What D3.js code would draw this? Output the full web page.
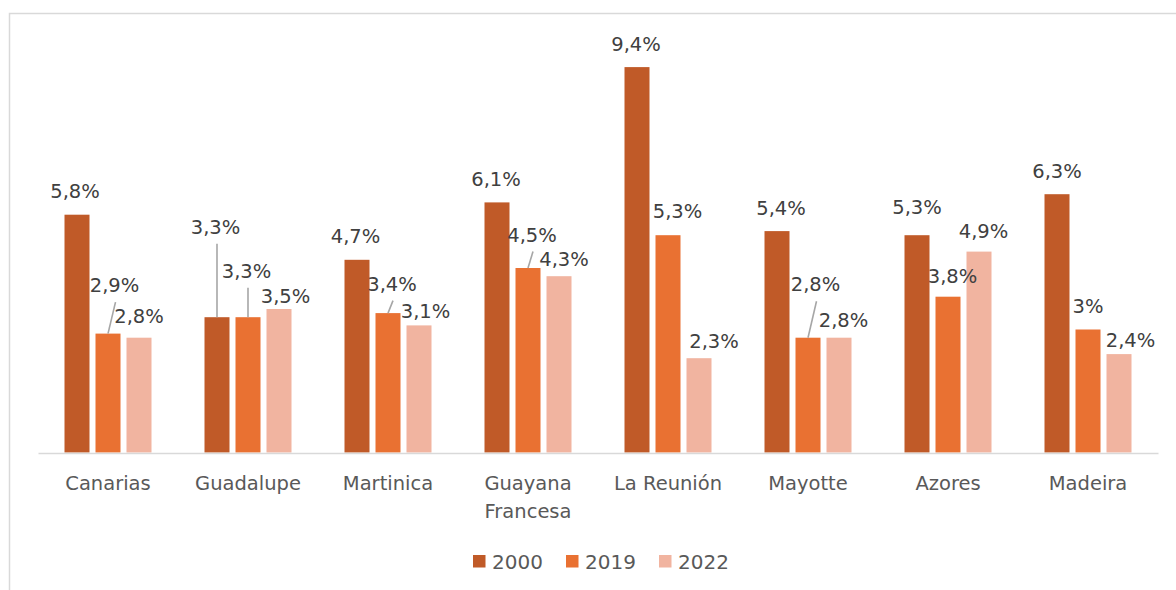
<!DOCTYPE html>
<html>
<head>
<meta charset="utf-8">
<script src="https://cdn.jsdelivr.net/npm/d3@7"></script>
<style>
  body { margin: 0; background: #fff; }
  svg { display: block; font-family: "DejaVu Sans", sans-serif; }
</style>
</head>
<body>
<div id="vis"></div>
<script>
// data (percent)
var categories = ['Canarias', 'Guadalupe', 'Martinica', 'Guayana Francesa', 'La Reunión', 'Mayotte', 'Azores', 'Madeira'];
var seriesNames = ['2000', '2019', '2022'];
var values2000 = [5.8, 3.3, 4.7, 6.1, 9.4, 5.4, 5.3, 6.3];
var values2019 = [2.9, 3.3, 3.4, 4.5, 5.3, 2.8, 3.8, 3.0];
var values2022 = [2.8, 3.5, 3.1, 4.3, 2.3, 2.8, 4.9, 2.4];

// label nudges [dx, dy, leader] per series, same order as categories
var nudge2000 = [[-2, 0, 0], [-1.5, -67, 1], [-1.5, 0, 0], [-1, 0, 0], [-1, 0, 0], [4, 0, 0], [0, -4.5, 0], [0, 0, 0]];
var nudge2019 = [[6.5, -25, 1], [-1.5, -23, 1], [4, -6, 1], [4, -10, 1], [9.5, -1, 0], [7.5, -30, 1], [4.5, 2.5, 0], [0, 0, 0]];
var nudge2022 = [[0, 1.5, 0], [6.5, 10.5, 0], [6.5, 9, 0], [5, 6, 0], [15, 6.5, 0], [4.5, 5.5, 0], [4.5, 3, 0], [11.5, 9, 0]];

var colors = ['#c05a28', '#e97132', '#f1b4a0'];

var width = 1176;
var height = 590;

var rows = [];
categories.forEach(function (c, i) {
    rows.push({ cat: c, s: '2000', v: values2000[i], n: nudge2000[i] });
    rows.push({ cat: c, s: '2019', v: values2019[i], n: nudge2019[i] });
    rows.push({ cat: c, s: '2022', v: values2022[i], n: nudge2022[i] });
});

var svg = d3.select('#vis').append('svg')
    .attr('width', width)
    .attr('height', height);

// chart area frame (only top and left edges fall inside the picture)
svg.append('rect')
    .attr('x', 9.5).attr('y', 13.5)
    .attr('width', 1300).attr('height', 700)
    .attr('fill', 'none')
    .attr('stroke', '#d9d9d9')
    .attr('stroke-width', 1.5);

var x0 = d3.scaleBand().domain(categories).range([38, 1158]).padding(0);
var x1 = d3.scaleBand().domain(seriesNames)
    .range([x0.bandwidth() / 2 - 43.5, x0.bandwidth() / 2 + 43.5])
    .paddingInner(6 / 31).paddingOuter(0);
var y = d3.scaleLinear().domain([0, 10]).range([452.5, 42.5]);
var color = d3.scaleOrdinal().domain(seriesNames).range(colors);

// bars
svg.append('g').selectAll('rect')
    .data(rows)
    .join('rect')
    .attr('x', d => x0(d.cat) + x1(d.s))
    .attr('y', d => y(d.v))
    .attr('width', x1.bandwidth())
    .attr('height', d => y(0) - y(d.v))
    .attr('fill', d => color(d.s));

// x axis
var xAxis = svg.append('g')
    .attr('transform', 'translate(0,' + 453 + ')')
    .call(d3.axisBottom(x0).tickSize(0).tickSizeOuter(0).tickPadding(23));

xAxis.select('.domain').attr('stroke', '#d9d9d9').attr('stroke-width', 1.6);
xAxis.selectAll('text')
    .attr('fill', '#595959')
    .style('font-family', '"DejaVu Sans", sans-serif')
    .style('font-size', '19.5px')
    .each(function (d) {
        var words = d.split(' ');
        if (words.length < 2 || d.length < 12) return;
        var t = d3.select(this).text(null);
        words.forEach(function (w, i) {
            t.append('tspan').attr('x', 0).attr('dy', i === 0 ? '0.71em' : '28px').text(w);
        });
    });
xAxis.attr('font-size', null);

function fmt(v) {
    return (Math.round(v * 10) / 10).toString().replace('.', ',') + '%';
}

function cx(d) { return x0(d.cat) + x1(d.s) + x1.bandwidth() / 2; }

// leader lines
svg.append('g').selectAll('line')
    .data(rows.filter(d => d.n[2]))
    .join('line')
    .attr('x1', cx)
    .attr('y1', d => y(d.v))
    .attr('x2', d => Math.abs(d.n[0]) < 3 ? cx(d) : cx(d) + d.n[0] + 1)
    .attr('y2', d => y(d.v) - 16.5 + d.n[1] + 10)
    .attr('stroke', '#a6a6a6')
    .attr('stroke-width', 1.6);

// data labels
svg.append('g').selectAll('text')
    .data(rows)
    .join('text')
    .attr('x', d => cx(d) + d.n[0])
    .attr('y', d => y(d.v) - 16.5 + d.n[1])
    .attr('text-anchor', 'middle')
    .attr('fill', '#404040')
    .style('font-size', '19.5px')
    .text(d => fmt(d.v));

// legend
var legend = svg.append('g').selectAll('g')
    .data(seriesNames)
    .join('g')
    .attr('transform', (d, i) => 'translate(' + (473 + i * 93) + ',555)');

legend.append('rect')
    .attr('width', 12.5)
    .attr('height', 12.5)
    .attr('fill', d => color(d));

legend.append('text')
    .attr('x', 19)
    .attr('y', 14)
    .attr('fill', '#595959')
    .style('font-size', '20px')
    .text(d => d);
</script>
</body>
</html>
